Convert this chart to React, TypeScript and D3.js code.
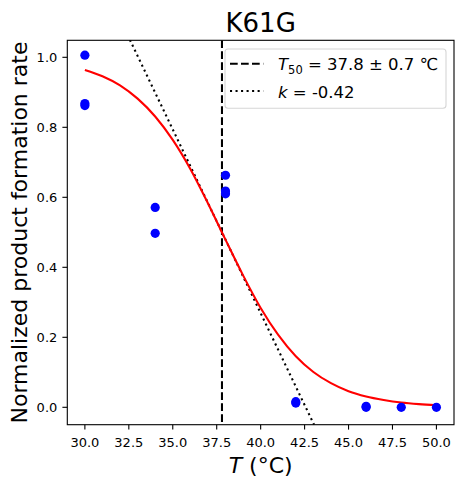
import React from 'react';
import * as d3 from 'd3';

// measured points
const sampleT = [30, 30, 30, 34, 34, 38, 38, 38, 42, 42, 46, 46, 48, 50];
const sampleRate = [1.006, 0.868, 0.862, 0.571, 0.497, 0.663, 0.618, 0.61, 0.016, 0.012, 0.003, 0.0, 0.0, 0.0];

// fitted curve
const fitT = [30, 31, 32, 33, 34, 35, 36, 37, 38, 39, 40, 41, 42, 43, 44, 45, 46, 47, 48, 49, 50];
const fitRate = [0.964, 0.946, 0.92, 0.882, 0.831, 0.764, 0.681, 0.583, 0.479, 0.377, 0.284, 0.207, 0.146, 0.101, 0.069, 0.046, 0.031, 0.021, 0.0136, 0.009, 0.0059];

const t50 = 37.8;
const tangentT = [32.56, 43.04];
const tangentRate = [1.05, -0.05];

const xTicks = [30, 32.5, 35, 37.5, 40, 42.5, 45, 47.5, 50];
const yTicks = [0, 0.2, 0.4, 0.6, 0.8, 1.0];

const W = 464;
const H = 487;
const font = '"DejaVu Sans", sans-serif';

export default function App() {
  const left = 67.3, right = 454, top = 40.3, bottom = 424.7;
  const x = d3.scaleLinear().domain([29, 51]).range([left, right]);
  const y = d3.scaleLinear().domain([-0.0497, 1.0486]).range([bottom, top]);
  const fmt = d3.format('.1f');

  const fitLine = d3.line<number>()
    .x((_, i) => x(fitT[i]))
    .y(d => y(d))
    .curve(d3.curveMonotoneX)(fitRate) as string;

  const tangentLine = d3.line<number>()
    .x((_, i) => x(tangentT[i]))
    .y(d => y(d))(tangentRate) as string;

  const cx = (left + right) / 2;
  const cy = (top + bottom) / 2;

  return (
    <svg width={W} height={H} style={{ position: 'absolute', left: 0, top: 0, background: '#fff' }} fontFamily={font}>
      <defs>
        <clipPath id="plot">
          <rect x={left} y={top} width={right - left} height={bottom - top} />
        </clipPath>
      </defs>

      <g clipPath="url(#plot)">
        <line x1={x(t50)} x2={x(t50)} y1={top} y2={bottom} stroke="#000" strokeWidth={2.08} strokeDasharray="7.7,3.3" />
        <path d={tangentLine} fill="none" stroke="#000" strokeWidth={2.08} strokeDasharray="2.08,3.44" />
        <path d={fitLine} fill="none" stroke="red" strokeWidth={2.08} />
        {sampleRate.map((v, i) => (
          <circle key={i} cx={x(sampleT[i])} cy={y(v)} r={4.6} fill="blue" />
        ))}
      </g>

      <rect x={left} y={top} width={right - left} height={bottom - top} fill="none" stroke="#000" strokeWidth={1.1} />

      {xTicks.map(t => (
        <g key={t}>
          <line x1={x(t)} x2={x(t)} y1={bottom} y2={bottom + 4.9} stroke="#000" strokeWidth={1.1} />
          <text x={x(t)} y={446.5} textAnchor="middle" fontSize={13}>{fmt(t)}</text>
        </g>
      ))}
      {yTicks.map(t => (
        <g key={t}>
          <line x1={left - 4.9} x2={left} y1={y(t)} y2={y(t)} stroke="#000" strokeWidth={1.1} />
          <text x={left - 10} y={y(t)} dy="0.35em" textAnchor="end" fontSize={13}>{fmt(t)}</text>
        </g>
      ))}

      <text x={cx} y={31.7} textAnchor="middle" fontSize={26}>K61G</text>
      <text x={cx} y={472.7} textAnchor="middle" fontSize={22}>
        <tspan fontStyle="italic">T</tspan> (°C)
      </text>
      <text transform={`translate(26.5,${cy}) rotate(-90)`} textAnchor="middle" fontSize={22}>
        Normalized product formation rate
      </text>

      <g>
        <rect x={225} y={49} width={221} height={59.3} rx={3} fill="#fff" fillOpacity={0.8} stroke="#d6d6d6" strokeWidth={1.1} />
        <line x1={230} x2={263.3} y1={63.7} y2={63.7} stroke="#000" strokeWidth={2.08} strokeDasharray="7.7,3.3" />
        <line x1={230} x2={263.3} y1={91} y2={91} stroke="#000" strokeWidth={2.08} strokeDasharray="2.08,3.44" />
        <text x={278} y={70} fontSize={16.5}>
          <tspan fontStyle="italic">T</tspan>
          <tspan fontSize={11.5} dy={4}>50</tspan>
          <tspan dy={-4}> = 37.8 ± 0.7 ℃</tspan>
        </text>
        <text x={278} y={97.7} fontSize={16.5}>
          <tspan fontStyle="italic">k</tspan> = -0.42
        </text>
      </g>
    </svg>
  );
}
